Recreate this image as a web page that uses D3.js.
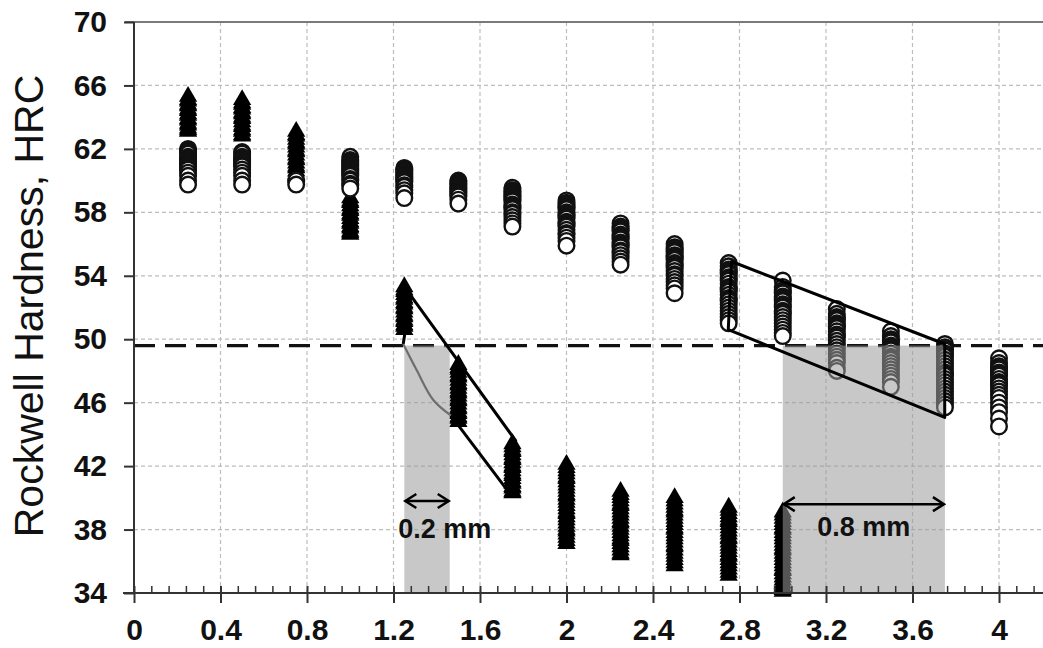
<!DOCTYPE html>
<html>
<head>
<meta charset="utf-8">
<script src="https://cdn.jsdelivr.net/npm/d3@7"></script>
<style>
body { margin: 0; background: #fff; }
</style>
</head>
<body>
<div id="chart"></div>
<script>
// axis ticks
const depthTicks = [0, 0.4, 0.8, 1.2, 1.6, 2, 2.4, 2.8, 3.2, 3.6, 4];
const hrcTicks = [34, 38, 42, 46, 50, 54, 58, 62, 66, 70];

// filled triangles (one list of readings per depth)
const triangleDepths = [0.25, 0.5, 0.75, 1.0, 1.25, 1.5, 1.75, 2.0, 2.25, 2.5, 2.75, 3.0];
const triangleHRC = [
  [65.3, 65.1, 65.0, 64.8, 64.7, 64.5, 64.4, 64.2, 64.1, 63.9, 63.8, 63.6, 63.5, 63.3, 63.2, 63.1],
  [65.1, 64.9, 64.8, 64.6, 64.5, 64.3, 64.2, 64.0, 63.9, 63.7, 63.5, 63.4, 63.2, 63.1, 62.9, 62.8],
  [63.1, 62.9, 62.8, 62.6, 62.4, 62.3, 62.1, 61.9, 61.8, 61.6, 61.4, 61.3, 61.1, 60.9, 60.8, 60.6, 60.4, 60.3, 60.2],
  [58.9, 58.7, 58.6, 58.4, 58.2, 58.1, 57.9, 57.8, 57.6, 57.4, 57.3, 57.1, 57.0, 56.8, 56.7, 56.6],
  [53.3, 53.1, 53.0, 52.8, 52.6, 52.5, 52.3, 52.2, 52.0, 51.9, 51.7, 51.5, 51.4, 51.2, 51.1, 50.9, 50.8, 50.6],
  [48.4, 48.2, 48.1, 47.9, 47.7, 47.6, 47.4, 47.2, 47.1, 46.9, 46.7, 46.6, 46.4, 46.2, 46.1, 45.9, 45.7, 45.6, 45.4, 45.3, 45.1, 45.0, 44.8],
  [43.4, 43.2, 43.0, 42.9, 42.7, 42.5, 42.4, 42.2, 42.0, 41.9, 41.7, 41.5, 41.4, 41.2, 41.0, 40.9, 40.7, 40.6, 40.4, 40.3],
  [42.1, 41.9, 41.7, 41.5, 41.3, 41.2, 41.0, 40.8, 40.6, 40.4, 40.2, 40.1, 39.9, 39.7, 39.5, 39.3, 39.1, 39.0, 38.8, 38.6, 38.4, 38.2, 38.0, 37.9, 37.7, 37.5, 37.3, 37.1],
  [40.4, 40.2, 40.0, 39.8, 39.6, 39.5, 39.3, 39.1, 38.9, 38.7, 38.5, 38.4, 38.2, 38.0, 37.8, 37.6, 37.4, 37.3, 37.1, 36.9, 36.7, 36.5, 36.4],
  [40.0, 39.8, 39.6, 39.4, 39.2, 39.1, 38.9, 38.7, 38.5, 38.3, 38.1, 38.0, 37.8, 37.6, 37.4, 37.2, 37.0, 36.9, 36.7, 36.5, 36.3, 36.1, 35.9, 35.7],
  [39.4, 39.2, 39.0, 38.8, 38.6, 38.5, 38.3, 38.1, 37.9, 37.7, 37.5, 37.4, 37.2, 37.0, 36.8, 36.6, 36.4, 36.3, 36.1, 35.9, 35.7, 35.5, 35.3, 35.1],
  [39.1, 38.9, 38.7, 38.5, 38.3, 38.1, 38.0, 37.8, 37.6, 37.4, 37.2, 37.0, 36.8, 36.7, 36.5, 36.3, 36.1, 35.9, 35.7, 35.5, 35.4, 35.2, 35.0, 34.8, 34.6, 34.4, 34.2, 34.1]
];

// open circles
const circleDepths = [0.25, 0.5, 0.75, 1.0, 1.25, 1.5, 1.75, 2.0, 2.25, 2.5, 2.75, 3.0, 3.25, 3.5, 3.75, 4.0];
const circleHRC = [
  [62.0, 61.9, 61.8, 61.7, 61.5, 61.4, 61.3, 61.2, 61.1, 61.0, 60.9, 60.8, 60.7, 60.5, 60.3, 60.0, 59.75],
  [61.8, 61.7, 61.5, 61.4, 61.3, 61.2, 61.1, 61.0, 60.9, 60.7, 60.5, 60.3, 60.0, 59.75],
  [60.0, 59.75],
  [61.5, 61.3, 61.2, 61.1, 61.0, 60.9, 60.8, 60.7, 60.6, 60.5, 60.4, 60.3, 60.1, 60.0, 59.8, 59.7, 59.5],
  [60.8, 60.7, 60.6, 60.5, 60.4, 60.3, 60.2, 60.1, 60.0, 59.9, 59.7, 59.6, 59.4, 59.2, 58.9],
  [60.0, 59.9, 59.8, 59.7, 59.6, 59.5, 59.4, 59.3, 59.2, 59.1, 59.0, 58.8, 58.55],
  [59.55, 59.4, 59.3, 59.2, 59.1, 59.0, 58.9, 58.8, 58.7, 58.5, 58.4, 58.3, 58.2, 58.0, 57.9, 57.7, 57.5, 57.3, 57.1],
  [58.75, 58.6, 58.5, 58.4, 58.3, 58.2, 58.0, 57.9, 57.8, 57.7, 57.6, 57.4, 57.3, 57.2, 57.1, 56.9, 56.7, 56.6, 56.4, 56.2, 55.9],
  [57.3, 57.1, 57.0, 56.9, 56.8, 56.6, 56.5, 56.4, 56.3, 56.1, 56.0, 55.9, 55.8, 55.6, 55.5, 55.3, 55.1, 54.9, 54.7],
  [56.0, 55.8, 55.7, 55.6, 55.5, 55.3, 55.2, 55.1, 55.0, 54.8, 54.7, 54.6, 54.5, 54.3, 54.1, 54.0, 53.8, 53.6, 53.4, 53.2, 52.9],
  [54.8, 54.6, 54.4, 54.3, 54.2, 54.1, 53.9, 53.8, 53.7, 53.5, 53.3, 53.2, 53.1, 53.0, 52.8, 52.6, 52.5, 52.4, 52.2, 52.0, 51.8, 51.6, 51.4, 51.2, 51.0],
  [53.7, 53.3, 53.1, 53.0, 52.9, 52.7, 52.6, 52.5, 52.4, 52.2, 52.1, 52.0, 51.8, 51.7, 51.6, 51.4, 51.2, 51.0, 50.8, 50.6, 50.4, 50.2],
  [51.9, 51.6, 51.4, 51.3, 51.2, 51.0, 50.9, 50.8, 50.7, 50.5, 50.3, 50.2, 50.1, 49.9, 49.7, 49.5, 49.3, 49.1, 48.9, 48.7, 48.5, 48.2, 48.0],
  [50.5, 50.2, 50.0, 49.9, 49.8, 49.6, 49.5, 49.4, 49.3, 49.1, 48.9, 48.8, 48.7, 48.5, 48.3, 48.1, 47.9, 47.7, 47.5, 47.3, 47.0],
  [49.7, 49.5, 49.4, 49.3, 49.1, 49.0, 48.9, 48.7, 48.5, 48.3, 48.1, 47.9, 47.8, 47.7, 47.5, 47.3, 47.1, 46.9, 46.7, 46.5, 46.3, 46.1, 45.9, 45.7],
  [48.8, 48.5, 48.3, 48.2, 48.1, 47.9, 47.8, 47.7, 47.5, 47.3, 47.2, 47.1, 46.9, 46.7, 46.5, 46.3, 46.0, 45.7, 45.4, 45.0, 44.5]
];

// limit line, shaded zones and bands
const limitHRC = 49.6;
const zoneStart = [1.25, 3.0];
const zoneEnd = [1.46, 3.75];
const zoneLabels = ["0.2 mm", "0.8 mm"];
const arrowHRC = [39.8, 39.6];
const labelHRC = [37.45, 37.6];
const leftBand = [[1.245, 49.7], [1.28, 52.75], [1.765, 43.6], [1.725, 40.5], [1.465, 45.2]];
const leftBandCurve = [[1.465, 45.2], [1.384, 46.17], [1.307, 48.06], [1.245, 49.7]];
const rightBand = [[2.763, 54.9], [3.749, 49.7], [3.749, 45.07], [2.748, 50.6]];

const W = 1043, H = 648;
const font = "'Liberation Sans', Arial, sans-serif";

const svg = d3.select("#chart").append("svg")
  .attr("width", W).attr("height", H)
  .style("background", "#fff");

const x = d3.scaleLinear().domain([0, 4.2]).range([134, 1042.25]);
const y = d3.scaleLinear().domain([34, 70]).range([593, 22]);

// grid
svg.append("g").selectAll("line")
  .data(hrcTicks.filter(d => d > 34 && d < 70))
  .enter().append("line")
  .attr("x1", x(0)).attr("x2", W)
  .attr("y1", d => y(d)).attr("y2", d => y(d))
  .attr("stroke", "#bdbdbd").attr("stroke-width", 1.2)
  .attr("stroke-dasharray", "4,3");

svg.append("g").selectAll("line")
  .data(depthTicks.filter(d => d > 0))
  .enter().append("line")
  .attr("x1", d => x(d)).attr("x2", d => x(d))
  .attr("y1", y(70)).attr("y2", y(34))
  .attr("stroke", "#bdbdbd").attr("stroke-width", 1.2)
  .attr("stroke-dasharray", "4,3");

// top border
svg.append("line")
  .attr("x1", 125).attr("x2", W)
  .attr("y1", y(70)).attr("y2", y(70))
  .attr("stroke", "#7a7a7a").attr("stroke-width", 2);

// limit line
svg.append("line")
  .attr("x1", x(0)).attr("x2", W)
  .attr("y1", y(limitHRC)).attr("y2", y(limitHRC))
  .attr("stroke", "#111").attr("stroke-width", 3.2)
  .attr("stroke-dasharray", "21,10");

// triangles
const triPoints = [];
triangleDepths.forEach((d, i) => {
  triangleHRC[i].forEach(v => triPoints.push([d, v]));
});
const tri = d3.symbol().type(d3.symbolTriangle).size(145);
svg.append("g").selectAll("path")
  .data(triPoints)
  .enter().append("path")
  .attr("d", tri)
  .attr("transform", d => "translate(" + x(d[0]) + "," + y(d[1]) + ")")
  .attr("fill", "#000");

// circles, top of each stack first so the lowest one ends up whole
const circPoints = [];
circleDepths.forEach((d, i) => {
  circleHRC[i].slice().sort((a, b) => b - a).forEach(v => circPoints.push([d, v]));
});
svg.append("g").selectAll("circle")
  .data(circPoints)
  .enter().append("circle")
  .attr("cx", d => x(d[0]))
  .attr("cy", d => y(d[1]))
  .attr("r", 7.8)
  .attr("fill", "#fff")
  .attr("stroke", "#111")
  .attr("stroke-width", 2.4);

// shaded zones
svg.append("g").selectAll("rect")
  .data(zoneStart)
  .enter().append("rect")
  .attr("x", (d, i) => x(d))
  .attr("width", (d, i) => x(zoneEnd[i]) - x(d))
  .attr("y", y(limitHRC))
  .attr("height", y(34) - y(limitHRC))
  .attr("fill", "#9a9a9a")
  .attr("opacity", 0.55);

// bands
const line = d3.line().x(d => x(d[0])).y(d => y(d[1]));
svg.append("path")
  .attr("d", line(leftBand))
  .attr("fill", "none").attr("stroke", "#000").attr("stroke-width", 3)
  .attr("stroke-linejoin", "round");
svg.append("path")
  .attr("d", line.curve(d3.curveCatmullRom)(leftBandCurve))
  .attr("fill", "none").attr("stroke", "#6e6e6e").attr("stroke-width", 2.2);
line.curve(d3.curveLinear);
svg.append("path")
  .attr("d", line(rightBand) + "Z")
  .attr("fill", "none").attr("stroke", "#000").attr("stroke-width", 3)
  .attr("stroke-linejoin", "round");

// double arrows and labels
zoneStart.forEach((d, i) => {
  const x1 = x(d), x2 = x(zoneEnd[i]), ay = y(arrowHRC[i]);
  const g = svg.append("g").attr("fill", "none").attr("stroke", "#000").attr("stroke-width", 2.5);
  g.append("line").attr("x1", x1 + 1).attr("x2", x2 - 1).attr("y1", ay).attr("y2", ay);
  g.append("path").attr("d", `M${x1 + 12},${ay - 7}L${x1 + 1},${ay}L${x1 + 12},${ay + 7}`);
  g.append("path").attr("d", `M${x2 - 12},${ay - 7}L${x2 - 1},${ay}L${x2 - 12},${ay + 7}`);
});

svg.append("g").selectAll("text")
  .data(zoneLabels)
  .enter().append("text")
  .attr("x", (d, i) => i === 0 ? x(zoneStart[i]) - 6 : (x(zoneStart[i]) + x(zoneEnd[i])) / 2)
  .attr("y", (d, i) => y(labelHRC[i]))
  .attr("text-anchor", (d, i) => i === 0 ? "start" : "middle")
  .attr("font-family", font).attr("font-weight", "bold").attr("font-size", 27)
  .attr("fill", "#111")
  .text(d => d);

// axes
const xAxis = svg.append("g")
  .attr("transform", "translate(0," + y(34) + ")")
  .call(d3.axisBottom(x).tickValues(depthTicks).tickSizeInner(10).tickSizeOuter(0)
    .tickPadding(16).tickFormat(d3.format("~g")));
xAxis.select(".domain").remove();
xAxis.selectAll(".tick line").attr("y1", -7).attr("stroke", "#333").attr("stroke-width", 2);
xAxis.selectAll(".tick text")
  .attr("font-family", font).attr("font-weight", "bold").attr("font-size", 30).attr("fill", "#111");

const minorTicks = d3.range(1, 53).map(i => i * 0.08).filter(v => Math.abs(v / 0.4 - Math.round(v / 0.4)) > 0.01);
const xMinor = svg.append("g")
  .attr("transform", "translate(0," + y(34) + ")")
  .call(d3.axisBottom(x).tickValues(minorTicks).tickSize(-7).tickSizeOuter(0).tickFormat(""));
xMinor.select(".domain").remove();
xMinor.selectAll(".tick line").attr("stroke", "#333").attr("stroke-width", 1.5);

svg.append("line")
  .attr("x1", 123).attr("x2", W)
  .attr("y1", y(34)).attr("y2", y(34))
  .attr("stroke", "#333").attr("stroke-width", 2);

const yAxis = svg.append("g")
  .attr("transform", "translate(" + x(0) + ",0)")
  .call(d3.axisLeft(y).tickValues(hrcTicks).tickSizeInner(10).tickSizeOuter(0).tickPadding(17));
yAxis.select(".domain").remove();
yAxis.selectAll(".tick line").attr("stroke", "#333").attr("stroke-width", 2);
yAxis.selectAll(".tick text")
  .attr("font-family", font).attr("font-weight", "bold").attr("font-size", 30).attr("fill", "#111");

svg.append("line")
  .attr("x1", x(0)).attr("x2", x(0))
  .attr("y1", y(70)).attr("y2", y(34))
  .attr("stroke", "#333").attr("stroke-width", 2);

svg.append("text")
  .attr("transform", "translate(43,306) rotate(-90)")
  .attr("text-anchor", "middle")
  .attr("font-family", font).attr("font-size", 41).attr("fill", "#111")
  .text("Rockwell Hardness, HRC");
</script>
</body>
</html>
